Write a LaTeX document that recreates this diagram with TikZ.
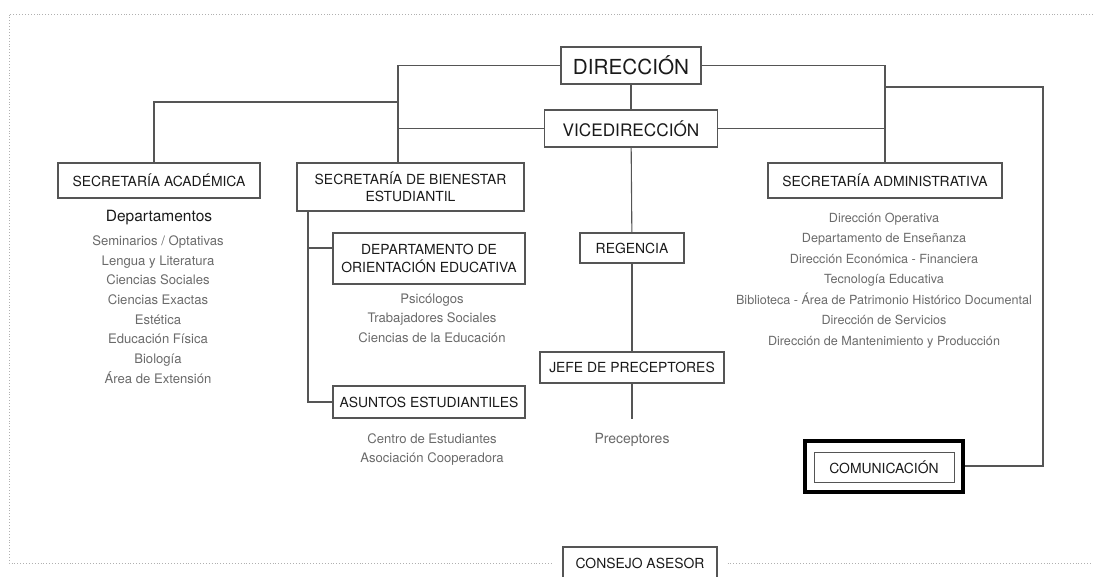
\documentclass[tikz,border=0pt]{standalone}
\usepackage{fontspec}
\setmainfont{TeX Gyre Heros}
\definecolor{linegray}{HTML}{555555}
\definecolor{itemgray}{HTML}{6A6A6A}
\definecolor{boxtext}{HTML}{1A1A1A}
\definecolor{framegray}{HTML}{B0B0B0}

\begin{document}
\begin{tikzpicture}[x=1pt,y=-1pt,
  every node/.style={inner sep=0pt},
  unit/.style={draw=linegray, line width=1.1pt, text=boxtext, align=center,
    font=\fontsize{13.9}{17.5}\selectfont},
  item/.style={text=itemgray, text height=9.6pt, text depth=3pt,
    font=\fontsize{13.1}{15}\selectfont},
  link/.style={draw=linegray, line width=1.1pt},
  frame/.style={draw=framegray, dotted, line width=0.9pt}]
\useasboundingbox (0,0) rectangle (1093,576);
% top of the chart
\node [unit, minimum width=140, minimum height=37, font=\fontsize{20.7}{24}\selectfont] (dir) at (631,65.5) {DIRECCIÓN};
\node [unit, minimum width=173, minimum height=37, font=\fontsize{17.2}{20}\selectfont] (vice) at (631,128.5) {VICEDIRECCIÓN};
% secretarias
\node [unit, minimum width=202, minimum height=35] (acad) at (159,180.5) {SECRETARÍA ACADÉMICA};
\node [unit, minimum width=227, minimum height=48] (bien) at (410.5,187) {SECRETARÍA DE BIENESTAR\\ESTUDIANTIL};
\node [unit, minimum width=234, minimum height=35] (adm) at (885,180.5) {SECRETARÍA ADMINISTRATIVA};
% bienestar branch
\node [unit, minimum width=192, minimum height=51] (doe) at (429,258.5) {DEPARTAMENTO DE\\ORIENTACIÓN EDUCATIVA};
\node [unit, minimum width=192, minimum height=32] (asu) at (429,402) {ASUNTOS ESTUDIANTILES};
% central branch
\node [unit, minimum width=104, minimum height=30] (reg) at (632,248) {REGENCIA};
\node [unit, minimum width=184, minimum height=31] (jefe) at (632,367.5) {JEFE DE PRECEPTORES};
\node [item, font=\fontsize{14}{16}\selectfont] (prec) at (632,440) {Preceptores};
% comunicacion and consejo
\node [draw=black, line width=4pt, minimum width=158, minimum height=51] (com) at (884,466) {};
\node [unit, line width=0.9pt, minimum width=140, minimum height=30] (comin) at (884,467) {COMUNICACIÓN};
\node [unit, minimum width=154, minimum height=32] (cons) at (640,563) {CONSEJO ASESOR};

% lists
\node [text=boxtext, font=\fontsize{15.5}{18}\selectfont] (deps) at (159,218) {Departamentos};
\foreach \t [count=\i from 0] in {Seminarios / Optativas, Lengua y Literatura, Ciencias Sociales,
    Ciencias Exactas, Estética, Educación Física, Biología, Área de Extensión}
  \node [item] (acad-\i) at (158,242+19.7*\i) {\t};
\foreach \t [count=\i from 0] in {Psicólogos, Trabajadores Sociales, Ciencias de la Educación}
  \node [item] (doe-\i) at (432,300+19.5*\i) {\t};
\foreach \t [count=\i from 0] in {Centro de Estudiantes, Asociación Cooperadora}
  \node [item] (asu-\i) at (432,440+19.5*\i) {\t};
\foreach \t [count=\i from 0] in {Dirección Operativa, Departamento de Enseñanza,
    Dirección Económica - Financiera, Tecnología Educativa,
    Biblioteca - Área de Patrimonio Histórico Documental, Dirección de Servicios,
    Dirección de Mantenimiento y Producción}
  \node [item, font=\fontsize{12.6}{15}\selectfont] (adm-\i) at (884,219+20.5*\i) {\t};

% junctions
\coordinate (ltop) at (398,65.5);
\coordinate (lmid) at (398,102);
\coordinate (rtop) at (885,65.5);
\coordinate (rmid) at (885,87);
\coordinate (rcorner) at (1043,87);
\coordinate (btop) at (308,211);
\coordinate (bdoe) at (308,248);
\coordinate (precend) at (632,419);

% connectors
\draw [link] (dir.west) -- (ltop) -- (ltop |- bien.north);
\draw [link] (vice.west) -- (vice.west -| ltop);
\draw [link] (lmid) -| ([xshift=-5pt]acad.north);
\draw [link] (dir.east) -- (rtop) -- (adm.north);
\draw [link] (vice.east) -- (vice.east -| rtop);
\draw [link] (rmid) -- (rcorner) |- (com.east);
\draw [link] (dir) -- (vice);
\draw [link] (vice) -- (reg);
\draw [link] (reg) -- (jefe);
\draw [link] (jefe.south) -- (precend);
\draw [link] (btop) |- (asu.west);
\draw [link] (bdoe) -- (bdoe -| doe.west);

% dotted frame
\draw [frame] (1093,14) -- (9,14) -- (9,563) -- ([xshift=-10pt]cons.west);
\draw [frame] ([xshift=10pt]cons.east) -- (1093,563);
\end{tikzpicture}
\end{document}
